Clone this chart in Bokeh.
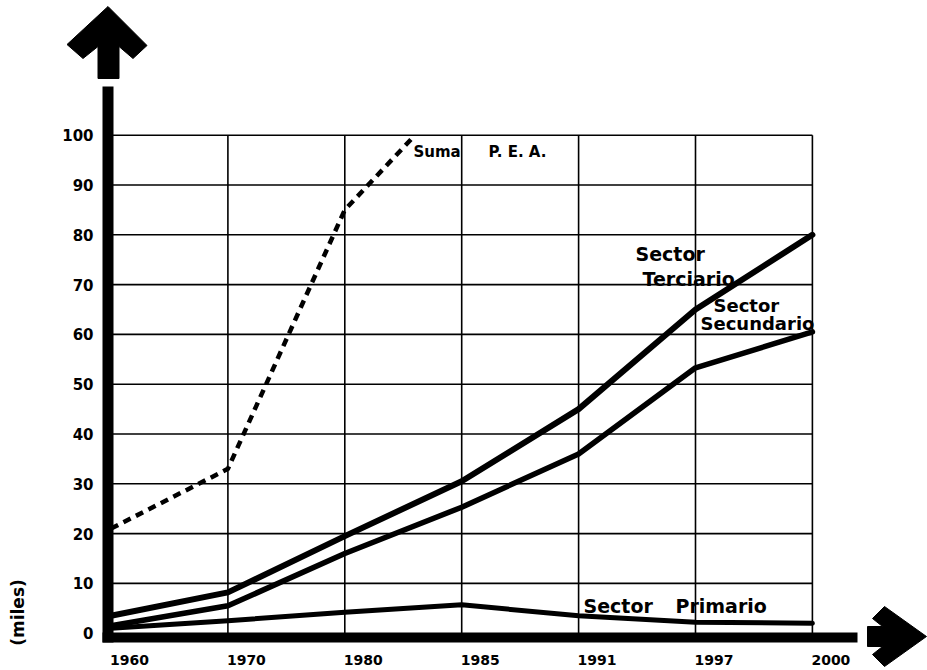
from bokeh.plotting import figure
from bokeh.models import Range1d
from bokeh.core.properties import value
from bokeh.embed import file_html
from bokeh.resources import INLINE
import math

# ---------------- data ----------------
years = ["1960", "1970", "1980", "1985", "1991", "1997", "2000"]
y_ticks = [0, 10, 20, 30, 40, 50, 60, 70, 80, 90, 100]

terciario = [3.5, 8.2, 19.5, 30.5, 45.0, 65.0, 80.0]
secundario = [1.5, 5.5, 16.0, 25.3, 36.0, 53.3, 60.5]
primario = [1.0, 2.5, 4.2, 5.7, 3.5, 2.2, 2.0]

# Suma P.E.A. (position along the year axis: 0=1960 ... 2.6 = between 1980 and 1985)
suma_pos = [0, 1, 2, 2.6]
suma_pea = [21.0, 33.0, 85.0, 100.0]

# ---------------- layout helpers ----------------
W, H = 927, 670
X0, XS = 110.5, 116.9     # px of position 0, px per category step
Y0, YS = 632.7, 4.98      # px (from top) of value 0, px per unit


def fx(px):
    return (px - X0) / XS


def fy(py):
    return (Y0 - py) / YS


xs_pos = list(range(len(years)))

p = figure(width=W, height=H,
           x_range=Range1d(-X0 / XS, (W - X0) / XS),
           y_range=Range1d((Y0 - H) / YS, Y0 / YS),
           output_backend="svg", toolbar_location=None,
           x_axis_location=None, y_axis_location=None,
           min_border=0)
p.grid.visible = False
p.outline_line_color = None
p.background_fill_color = "white"
p.border_fill_color = "white"

FONT = value("DejaVu Sans")

# grid
top = y_ticks[-1]
p.segment(x0=[0] * (len(y_ticks) - 1), x1=[xs_pos[-1]] * (len(y_ticks) - 1),
          y0=y_ticks[1:], y1=y_ticks[1:], line_color="black", line_width=1.6)
p.segment(x0=xs_pos[1:], x1=xs_pos[1:], y0=[0] * (len(xs_pos) - 1),
          y1=[top] * (len(xs_pos) - 1), line_color="black", line_width=1.6)

# thick axes
p.line(x=[fx(107.5), fx(107.5)], y=[fy(642), fy(86)], line_color="black",
       line_width=11)
p.line(x=[fx(102), fx(857)], y=[fy(637), fy(637)], line_color="black",
       line_width=10)

# up arrow
tipx, tipy = 107.5, 6
up = [(0, 0), (39, 39), (25, 52), (11, 40), (11, 72), (-10, 72), (-10, 40),
      (-25, 52), (-41, 38)]
p.patch(x=[fx(tipx + dx) for dx, dy in up], y=[fy(tipy + dy) for dx, dy in up],
        fill_color="black", line_color="black", line_join="round")

# right arrow
rtx, rty = 926, 636
right = [(0, 0), (-42, 30), (-54, 18), (-44, 10), (-59, 10), (-59, -10),
         (-44, -10), (-54, -18), (-42, -30)]
p.patch(x=[fx(rtx + dx) for dx, dy in right], y=[fy(rty + dy) for dx, dy in right],
        fill_color="black", line_color="black", line_join="round")

# series
p.line(x=xs_pos, y=terciario, line_color="black", line_width=6,
       line_join="round", line_cap="round")
p.line(x=xs_pos, y=secundario, line_color="black", line_width=5.5,
       line_join="round", line_cap="round")
p.line(x=xs_pos, y=primario, line_color="black", line_width=5,
       line_join="round", line_cap="round")
p.line(x=suma_pos, y=suma_pea, line_color="black", line_width=4.5,
       line_dash="8 6", line_join="round")

# y tick labels
p.text(x=[fx(93)] * len(y_ticks), y=y_ticks, text=[str(t) for t in y_ticks],
       text_align="right", text_baseline="middle", text_font=FONT,
       text_font_style="bold", text_font_size="15px", text_color="black")

# x tick labels
p.text(x=xs_pos, y=[fy(659)] * len(years), text=years, text_align="left",
       text_baseline="alphabetic", text_font=FONT, text_font_style="bold",
       text_font_size="14px", text_color="black", x_offset=-1)

# axis unit label
p.text(x=[fx(17)], y=[fy(612)], text=["(miles)"], angle=math.pi / 2,
       text_align="center", text_baseline="middle", text_font=FONT,
       text_font_style="bold", text_font_size="17px", text_color="black")

# series labels
p.text(x=[fx(413), fx(488)], y=[fy(151), fy(151)], text=["Suma", "P. E. A."],
       text_align="left", text_baseline="alphabetic", text_font=FONT,
       text_font_style="bold", text_font_size="15px", text_color="black")
p.text(x=[fx(635), fx(642)], y=[fy(253), fy(278)], text=["Sector", "Terciario"],
       text_align="left", text_baseline="alphabetic", text_font=FONT,
       text_font_style="bold", text_font_size="19px", text_color="black")
p.text(x=[fx(713), fx(700)], y=[fy(305), fy(323)], text=["Sector", "Secundario"],
       text_align="left", text_baseline="alphabetic", text_font=FONT,
       text_font_style="bold", text_font_size="18px", text_color="black")
p.text(x=[fx(583), fx(675)], y=[fy(605), fy(605)], text=["Sector", "Primario"],
       text_align="left", text_baseline="alphabetic", text_font=FONT,
       text_font_style="bold", text_font_size="19px", text_color="black")

open("out.html", "w").write(file_html(p, INLINE))
